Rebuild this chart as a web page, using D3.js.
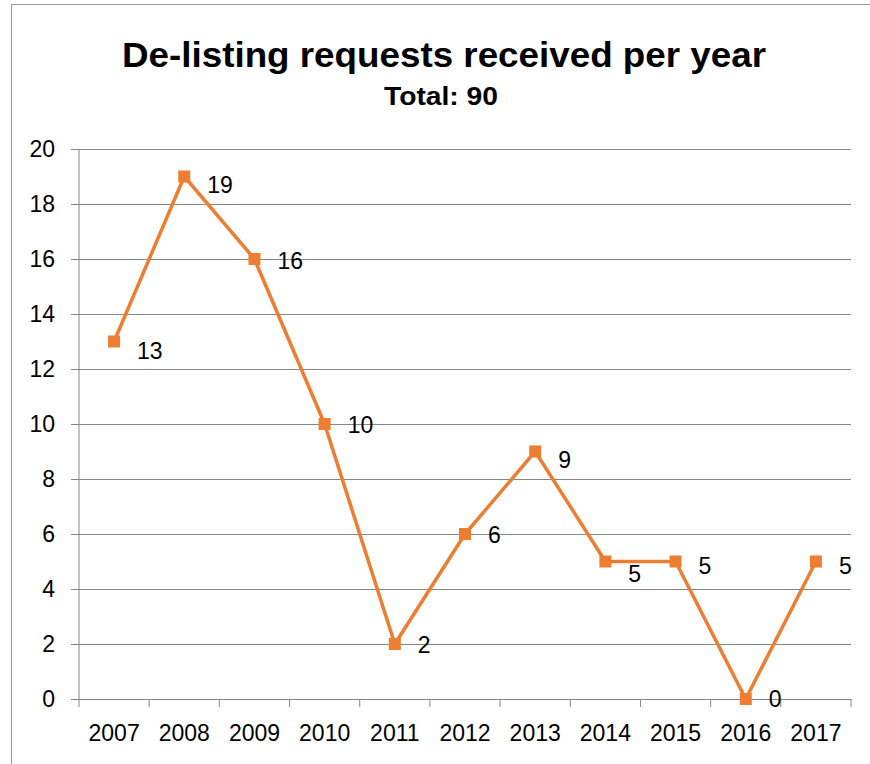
<!DOCTYPE html>
<html>
<head>
<meta charset="utf-8">
<script src="https://cdnjs.cloudflare.com/ajax/libs/d3/7.8.5/d3.min.js"></script>
<style>
    body { margin: 0; background: #fff; overflow: hidden; }
    .container { width: 870px; height: 764px; }
    text { font-family: "Liberation Sans", Arial, sans-serif; fill: #000; }
</style>
</head>
<body>
<div class="container"></div>
<script>
let years = ["2007", "2008", "2009", "2010", "2011", "2012", "2013", "2014", "2015", "2016", "2017"];
let requests = [13, 19, 16, 10, 2, 6, 9, 5, 5, 0, 5];
let yTicks = [0, 2, 4, 6, 8, 10, 12, 14, 16, 18, 20];
let title = "De-listing requests received per year";
let subtitle = "Total: 90";

let margin = {
    top: 149,
    right: 19,
    bottom: 65,
    left: 79
};
let width = 870 - margin.left - margin.right;
let height = 764 - margin.top - margin.bottom;

let orange = "#ED7D31";
let grey = "#868686";
let labelSize = 23;

let root = d3.select(".container")
    .append("svg")
    .attr("width", 870)
    .attr("height", 764)
    .style("display", "block");

// outer chart border (only the top and left edges are in frame)
root.append("rect")
    .attr("x", 11.5)
    .attr("y", 4.5)
    .attr("width", 900)
    .attr("height", 800)
    .attr("fill", "none")
    .attr("stroke", "#9a9a9a")
    .attr("stroke-width", 1);

root.append("text")
    .attr("x", 444)
    .attr("y", 67)
    .attr("text-anchor", "middle")
    .attr("font-size", 35)
    .attr("font-weight", "bold")
    .attr("textLength", 644)
    .attr("lengthAdjust", "spacingAndGlyphs")
    .text(title);

root.append("text")
    .attr("x", 441)
    .attr("y", 105)
    .attr("text-anchor", "middle")
    .attr("font-size", 26)
    .attr("font-weight", "bold")
    .attr("textLength", 114)
    .attr("lengthAdjust", "spacingAndGlyphs")
    .text(subtitle);

let svg = root.append("g")
    .attr("transform", "translate(" + margin.left + "," + margin.top + ")");

let x = d3.scaleBand()
    .domain(years)
    .range([0, width]);

let y = d3.scaleLinear()
    .domain([0, 20])
    .range([height, 0]);

// gridlines + y labels
let yAxis = svg.append("g")
    .attr("class", "axis y")
    .call(d3.axisLeft(y)
        .tickValues(yTicks)
        .tickSize(-width)
        .tickPadding(24)
        .tickFormat(d3.format("d")));
yAxis.select(".domain").remove();
yAxis.selectAll(".tick line")
    .attr("x1", -8)
    .attr("stroke", grey);
yAxis.selectAll(".tick text")
    .attr("font-size", labelSize)
    .attr("font-family", "Liberation Sans, Arial, sans-serif")
    .attr("fill", "#000");

// y axis line
svg.append("line")
    .attr("x1", 0)
    .attr("x2", 0)
    .attr("y1", 0)
    .attr("y2", height)
    .attr("stroke", grey);

// x axis: ticks sit between the categories
let xAxis = svg.append("g")
    .attr("class", "axis x")
    .attr("transform", "translate(0," + height + ")")
    .call(d3.axisBottom(x).tickSize(0).tickPadding(26));
xAxis.select(".domain")
    .attr("stroke", grey);
xAxis.selectAll(".tick text")
    .attr("font-size", labelSize)
    .attr("font-family", "Liberation Sans, Arial, sans-serif")
    .attr("fill", "#000");

xAxis.selectAll(".sep")
    .data(d3.range(years.length + 1))
    .enter()
    .append("line")
    .attr("class", "sep")
    .attr("x1", function (i) { return i * x.step(); })
    .attr("x2", function (i) { return i * x.step(); })
    .attr("y1", 0)
    .attr("y2", 8)
    .attr("stroke", grey);

let cx = function (d, i) { return x(years[i]) + x.bandwidth() / 2; };

let line = d3.line()
    .x(cx)
    .y(function (d) { return y(d); });

svg.append("path")
    .datum(requests)
    .attr("fill", "none")
    .attr("stroke", orange)
    .attr("stroke-width", 3.5)
    .attr("stroke-linejoin", "round")
    .attr("d", line);

svg.append("g")
    .selectAll("rect")
    .data(requests)
    .enter()
    .append("rect")
    .attr("x", function (d, i) { return cx(d, i) - 6; })
    .attr("y", function (d) { return y(d) - 6; })
    .attr("width", 12)
    .attr("height", 12)
    .attr("fill", orange);

// data labels sit to the right; Excel nudged a few of them down a bit
let labelDy = [9, 8, 2, 1, 1, 1, 8, 12, 4, 0, 4];

svg.append("g")
    .selectAll("text")
    .data(requests)
    .enter()
    .append("text")
    .attr("x", function (d, i) { return cx(d, i) + 23; })
    .attr("y", function (d, i) { return y(d) + labelDy[i]; })
    .attr("dy", "0.36em")
    .attr("font-size", labelSize)
    .text(function (d) { return d; });
</script>
</body>
</html>
